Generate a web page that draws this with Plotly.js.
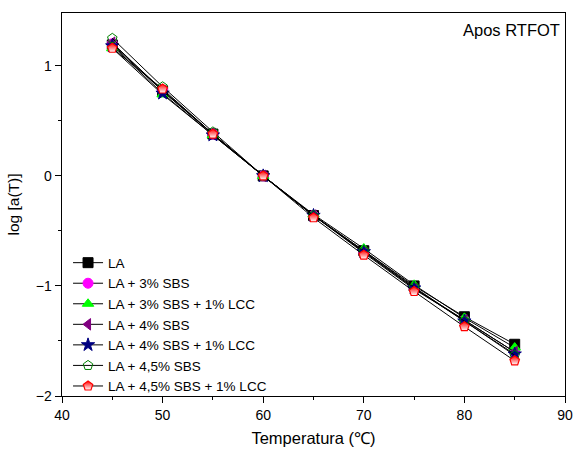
<!DOCTYPE html>
<html>
<head>
<meta charset="utf-8">
<script src="https://cdn.plot.ly/plotly-3.0.1.min.js"></script>
<style>html,body{margin:0;padding:0;background:#fff;}#chart{width:573px;height:450px;}</style>
</head>
<body>
<div id="chart"></div>
<script>
const temperatures = [45, 50, 55, 60, 65, 70, 75, 80, 85];
const seriesNames = ["LA", "LA + 3% SBS", "LA + 3% SBS + 1% LCC", "LA + 4% SBS", "LA + 4% SBS + 1% LCC", "LA + 4,5% SBS", "LA + 4,5% SBS + 1% LCC"];
const la        = [1.19, 0.77, 0.38, 0, -0.36, -0.68, -1.00, -1.28, -1.53];
const la3sbs    = [1.20, 0.78, 0.38, 0, -0.36, -0.69, -1.02, -1.31, -1.60];
const la3sbsLcc = [1.16, 0.74, 0.37, 0, -0.35, -0.66, -0.99, -1.29, -1.56];
const la4sbs    = [1.21, 0.77, 0.38, 0, -0.36, -0.70, -1.03, -1.31, -1.60];
const la4sbsLcc = [1.18, 0.75, 0.37, 0, -0.36, -0.69, -1.02, -1.32, -1.62];
const la45sbs   = [1.25, 0.81, 0.40, 0, -0.36, -0.68, -1.01, -1.32, -1.63];
const la45sbsLcc= [1.16, 0.79, 0.38, 0, -0.38, -0.72, -1.05, -1.37, -1.68];

const seriesValues = [la, la3sbs, la3sbsLcc, la4sbs, la4sbsLcc, la45sbs, la45sbsLcc];
const markerStyles = [
  {symbol: "square", color: "#000000", line: {color: "#000000", width: 1}},
  {symbol: "circle", color: "#ff00ff", line: {color: "#ff00ff", width: 1}},
  {symbol: "triangle-up", color: "#00ff00", line: {color: "#00ff00", width: 1}},
  {symbol: "triangle-left", color: "#800080", line: {color: "#800080", width: 1}},
  {symbol: "star", color: "#000080", line: {color: "#000080", width: 1}},
  {symbol: "pentagon-open", color: "#008000", line: {color: "#008000", width: 1}},
  {symbol: "pentagon", color: "#ff0000", line: {color: "#ff0000", width: 1.2},
   gradient: {type: "vertical", color: "#ffffff"}}
];

const traces = seriesNames.map((name, i) => ({
  x: temperatures,
  y: seriesValues[i],
  name: name,
  type: "scatter",
  mode: "lines+markers",
  line: {color: "#000000", width: 1},
  marker: Object.assign({size: 10}, markerStyles[i])
}));

const layout = {
  width: 573, height: 450,
  margin: {l: 62, r: 8, t: 13, b: 54},
  paper_bgcolor: "#ffffff", plot_bgcolor: "#ffffff",
  font: {family: "Liberation Sans, Arial, sans-serif", size: 14, color: "#000"},
  showlegend: true,
  legend: {x: 0.012, y: 0.388, xanchor: "left", yanchor: "top", bgcolor: "rgba(0,0,0,0)",
    font: {size: 13.5}, tracegroupgap: 0, itemwidth: 30},
  xaxis: {
    range: [40, 90], dtick: 10, tick0: 40,
    showline: true, linecolor: "#000", linewidth: 1.4, mirror: true,
    ticks: "outside", ticklen: 6, tickwidth: 1, tickcolor: "#000",
    ticklabeloverflow: "allow",
    tickfont: {size: 14},
    minor: {dtick: 5, ticks: "outside", ticklen: 3, tickcolor: "#000", showgrid: false},
    showgrid: false, zeroline: false,
    title: {text: "Temperatura (℃)", font: {size: 16.5}, standoff: 10}
  },
  yaxis: {
    range: [-2, 1.48], dtick: 1, tick0: 0,
    showline: true, linecolor: "#000", linewidth: 1.4, mirror: true,
    ticks: "outside", ticklen: 6, tickwidth: 1, tickcolor: "#000",
    tickfont: {size: 14},
    minor: {dtick: 0.5, ticks: "outside", ticklen: 3, tickcolor: "#000", showgrid: false},
    showgrid: false, zeroline: false,
    title: {text: "log [a(T)]", font: {size: 15.5}, standoff: 12}
  },
  annotations: [{
    text: "Apos RTFOT", xref: "paper", yref: "paper", x: 0.995, y: 0.955,
    xanchor: "right", yanchor: "middle", showarrow: false, font: {size: 16.5}
  }]
};

Plotly.newPlot("chart", traces, layout, {displayModeBar: false, staticPlot: true});
</script>
</body>
</html>
